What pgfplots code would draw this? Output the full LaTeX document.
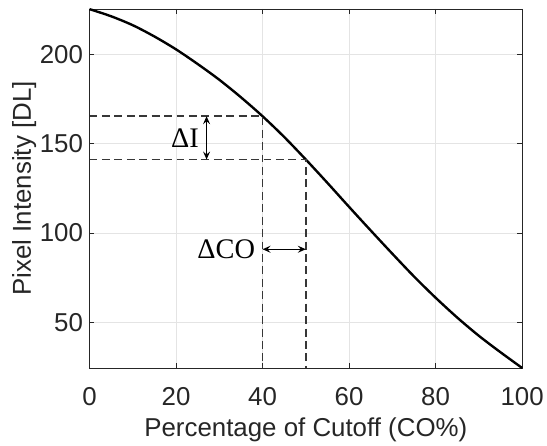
\documentclass[border=0pt]{standalone}
\usepackage{fontspec}
\setmainfont{Liberation Sans}
\newfontfamily\timesf{Liberation Serif}
\usepackage{pgfplots}
\pgfplotsset{compat=1.18}
\usetikzlibrary{arrows.meta}
\definecolor{axgray}{RGB}{38,38,38}
\definecolor{dashgray}{RGB}{55,55,55}
\definecolor{gridgray}{RGB}{228,228,228}

\begin{document}
\begin{tikzpicture}
\begin{axis}[
  name=ax,
  width=435pt, height=361pt, scale only axis,
  xmin=0, xmax=100, ymin=24.5, ymax=225.3,
  xtick={0,20,40,60,80,100}, ytick={50,100,150,200},
  grid=major, major grid style={gridgray, line width=0.6pt},
  axis line style={axgray, line width=0.8pt},
  tick style={axgray, line width=0.8pt},
  major tick length=5pt, tick align=inside,
  ticklabel style={font=\fontsize{26}{30}\selectfont, text=axgray},
  xticklabel style={yshift=-16pt},
  yticklabel style={xshift=-3pt},
  /pgf/number format/assume math mode=true,
  xlabel={Percentage of Cutoff (CO\%)},
  ylabel={Pixel Intensity [DL]},
  label style={font=\fontsize{26}{30}\selectfont, text=axgray},
  xlabel style={at={(axis description cs:0.5,0)}, anchor=base, yshift=-69pt},
  ylabel style={at={(axis description cs:0,0.5)}, anchor=base, yshift=59pt},
  clip=false,
]
% intensity curve
\addplot[black, line width=2.4pt, smooth] coordinates {
  (0,225.2) (5,221.2) (10,216.2) (15,209.9) (20,202.7) (25,194.5)
  (30,185.7) (35,175.9) (40,165.3) (45,153.7) (50,141.1) (55,128.0)
  (60,114.6) (65,101.4) (70,88.4) (75,75.7) (80,63.8) (85,52.7)
  (90,42.5) (95,33.3) (100,24.5)
};
% guide lines
\addplot[dashgray, line width=1.5pt, dash pattern=on 8pt off 4.5pt] coordinates {(0,165.3) (40,165.3) (40,24.5)};
\addplot[dashgray, line width=1.5pt, dash pattern=on 8pt off 4.5pt] coordinates {(0,141.1) (50,141.1) (50,24.5)};
% arrows
\addplot[black, line width=1.4pt, {Stealth[length=8pt,width=7pt,inset=3pt]}-{Stealth[length=8pt,width=7pt,inset=3pt]}]
  coordinates {(27.06,141.1) (27.06,165.3)};
\addplot[black, line width=1.4pt, {Stealth[length=8pt,width=7pt,inset=3pt]}-{Stealth[length=8pt,width=7pt,inset=3pt]}]
  coordinates {(40,90.9) (50,90.9)};
\node[anchor=east, inner sep=0pt, font=\timesf\fontsize{28.5}{33}\selectfont] at (axis cs:25.3,153.3) {ΔI};
\node[anchor=east, inner sep=0pt, font=\timesf\fontsize{28.5}{33}\selectfont] at (axis cs:38.3,90.9) {ΔCO};
\end{axis}
\path[use as bounding box] ([shift={(-90pt,-77pt)}]ax.south west) rectangle ([shift={(22pt,9pt)}]ax.north east);
\end{tikzpicture}
\end{document}
